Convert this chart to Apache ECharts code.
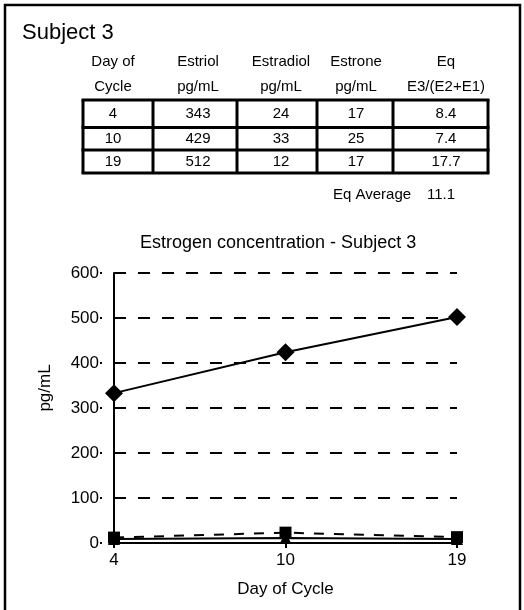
<!DOCTYPE html>
<html>
<head>
<meta charset="utf-8">
<script src="https://cdn.jsdelivr.net/npm/echarts@6/dist/echarts.min.js"></script>
<style>
html,body{margin:0;padding:0;background:#fff;}
#c{width:524px;height:610px;}
</style>
</head>
<body>
<div id="c"></div>
<script>
// ---- data ----
var days = ['4', '10', '19'];
var tableHeaders = ['Day of\nCycle', 'Estriol\npg/mL', 'Estradiol\npg/mL', 'Estrone\npg/mL', 'Eq\nE3/(E2+E1)'];
var tEstriol = ['343', '429', '512'];
var tEstradiol = ['24', '33', '12'];
var tEstrone = ['17', '25', '17'];
var tEq = ['8.4', '7.4', '17.7'];
var eqAverage = '11.1';
// plotted values
var estriolPlot = [333, 424, 502];
var estradiolPlot = [12, 23, 13];
var estronePlot = [9, 11, 9];
var yTicks = [0, 100, 200, 300, 400, 500, 600];

// ---- layout ----
var FONT = '"Liberation Sans", Arial, sans-serif';
var colX = [83, 153, 237, 317, 393, 488];
var rowY = [100, 127.5, 150, 173];
var textX = [113, 198, 281, 356, 446];

var chart = echarts.init(document.getElementById('c'));
var g = [];
g.push({type:'rect', shape:{x:5, y:5, width:515, height:640}, style:{fill:'none', stroke:'#000', lineWidth:2.5}, z:10});
g.push({type:'text', left:22, top:22, style:{text:'Subject 3', font:'22px ' + FONT, fill:'#000'}});
// headers
for (var i = 0; i < tableHeaders.length; i++) {
  g.push({type:'text', x:textX[i], y:74, style:{text:tableHeaders[i], font:'15px ' + FONT, fill:'#000', textAlign:'center', textVerticalAlign:'middle', lineHeight:25}});
}
// table lines
for (var i = 0; i < colX.length; i++) {
  g.push({type:'line', shape:{x1:colX[i], y1:rowY[0], x2:colX[i], y2:rowY[rowY.length-1]}, style:{stroke:'#000', lineWidth:3}});
}
for (var j = 0; j < rowY.length; j++) {
  g.push({type:'line', shape:{x1:colX[0]-1.5, y1:rowY[j], x2:colX[colX.length-1]+1.5, y2:rowY[j]}, style:{stroke:'#000', lineWidth:3}});
}
var cols = [days, tEstriol, tEstradiol, tEstrone, tEq];
for (var r = 0; r < days.length; r++) {
  for (var c = 0; c < cols.length; c++) {
    g.push({type:'text', x:textX[c], y:(rowY[r]+rowY[r+1])/2 + 0.5, style:{text:cols[c][r], font:'15px ' + FONT, fill:'#000', textAlign:'center', textVerticalAlign:'middle'}});
  }
}
g.push({type:'text', x:333, y:195, style:{text:'Eq Average', font:'15px ' + FONT, fill:'#000', textVerticalAlign:'middle'}});
g.push({type:'text', x:427, y:195, style:{text:eqAverage, font:'15px ' + FONT, fill:'#000', textVerticalAlign:'middle'}});

var option = {
  animation: false,
  backgroundColor: '#fff',
  title: {text:'Estrogen concentration - Subject 3', left:140, top:234, padding:0,
    textStyle:{fontFamily:FONT, fontSize:18, fontWeight:'normal', color:'#000'}},
  grid: {left:114, right:67, top:273, bottom:67},
  xAxis: {
    type:'category', data:days, boundaryGap:false,
    axisLine:{lineStyle:{color:'#000', width:2}},
    axisTick:{show:true, length:5, lineStyle:{color:'#000', width:2}},
    axisLabel:{fontFamily:FONT, fontSize:17, color:'#000', margin:9},
    splitLine:{show:false},
    name:'Day of Cycle', nameLocation:'middle', nameGap:38,
    nameTextStyle:{fontFamily:FONT, fontSize:17, color:'#000'}
  },
  yAxis: [{
    type:'value', min:yTicks[0], max:yTicks[yTicks.length-1], interval:100, offset:12,
    axisLine:{show:false},
    axisTick:{show:true, length:2, lineStyle:{color:'#000', width:2}},
    axisLabel:{fontFamily:FONT, fontSize:17, color:'#000', margin:3},
    splitLine:{show:true, lineStyle:{color:'#000', width:2, type:[12,12]}},
    name:'pg/mL', nameLocation:'middle', nameGap:48,
    nameTextStyle:{fontFamily:FONT, fontSize:17, color:'#000', padding:[0,0,0,40]}
  },{
    type:'value', min:yTicks[0], max:yTicks[yTicks.length-1], interval:100, position:'left',
    axisLine:{show:true, lineStyle:{color:'#000', width:2}},
    axisTick:{show:false}, axisLabel:{show:false}, splitLine:{show:false}
  }],
  series: [
    {name:'Estriol', type:'line', data:estriolPlot, symbol:'diamond', symbolSize:18,
     lineStyle:{color:'#000', width:2}, itemStyle:{color:'#000'}, z:5},
    {name:'Estradiol', type:'line', data:estradiolPlot, symbol:'rect', symbolSize:12,
     lineStyle:{color:'#000', width:2, type:[10,10]}, itemStyle:{color:'#000'}, z:4},
    {name:'Estrone', type:'line', data:estronePlot, symbol:'triangle', symbolSize:12,
     lineStyle:{color:'#000', width:2}, itemStyle:{color:'#000'}, z:3}
  ],
  graphic: g
};
chart.setOption(option);
</script>
</body>
</html>
